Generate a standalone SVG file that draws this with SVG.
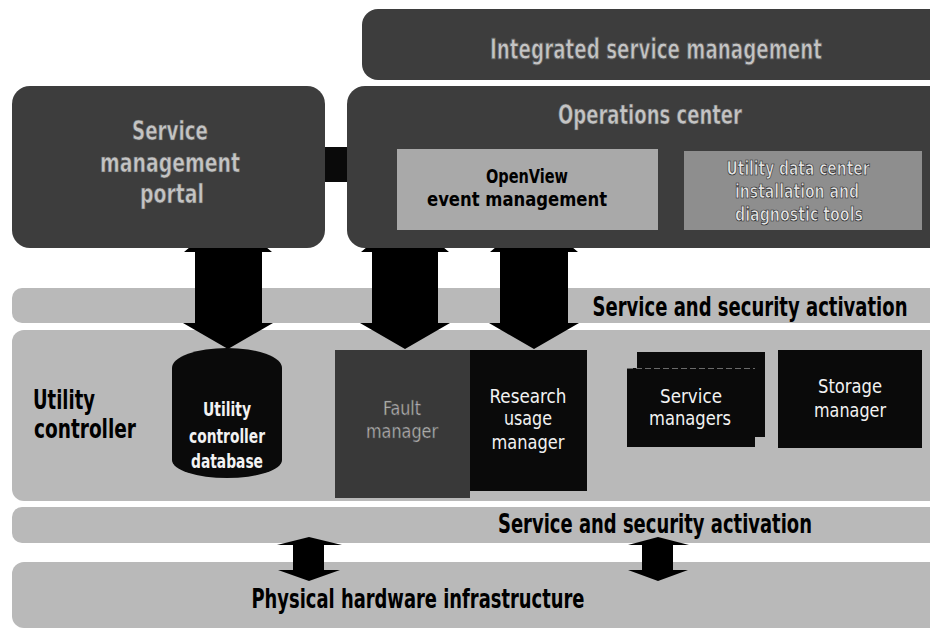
<svg xmlns="http://www.w3.org/2000/svg" width="930" height="631" viewBox="0 0 930 631">
  <style>
    text { font-family: "Liberation Sans Narrow", "DejaVu Sans Condensed", "Liberation Sans", sans-serif; font-stretch: condensed; font-weight: bold; text-anchor: middle; }
    .lft { text-anchor: start; }
    .dark { fill: #3d3d3d; }
    .band { fill: #b9b9b9; }
    .black { fill: #0a0a0a; }
    .ttl { fill: #c4c4c4; stroke: #555; stroke-width: 0.6; }
    .wt { fill: #f2f2f2; font-weight: normal; }
    .bk { fill: #000; }
    .arrow { fill: #000; }
  </style>

  <rect width="930" height="631" fill="#fff"/>

  <!-- horizontal layers -->
  <g id="band-activation-top">
    <rect class="band" x="12" y="288" width="930" height="35" rx="10"/>
    <text class="bk" transform="translate(750,316) scale(1,1.5)" x="0" y="0" font-size="18" textLength="315" lengthAdjust="spacingAndGlyphs">Service and security activation</text>
  </g>
  <g id="band-utility-controller">
    <rect class="band" x="12" y="330" width="930" height="171" rx="12"/>
    <text class="bk lft" x="33" y="409" font-size="27" textLength="62" lengthAdjust="spacingAndGlyphs">Utility</text>
    <text class="bk lft" x="34" y="438" font-size="27" textLength="102" lengthAdjust="spacingAndGlyphs">controller</text>
  </g>
  <g id="band-activation-bottom">
    <rect class="band" x="12" y="507" width="930" height="36" rx="10"/>
    <text class="bk" x="655" y="533" font-size="26" textLength="314" lengthAdjust="spacingAndGlyphs">Service and security activation</text>
  </g>
  <g id="band-hardware">
    <rect class="band" x="12" y="562" width="930" height="66" rx="12"/>
    <text class="bk" x="418" y="608" font-size="26" textLength="333" lengthAdjust="spacingAndGlyphs">Physical hardware infrastructure</text>
  </g>

  <!-- connectors -->
  <g id="connectors">
    <!-- portal <-> utility controller database -->
    <path class="arrow" d="M228,215 L272,252 L262,252 L262,323 L273,323 L228,349 L183,323 L195,323 L195,252 L184,252 Z"/>
    <!-- operations center <-> fault manager -->
    <path class="arrow" d="M405,215 L449,252 L438,252 L438,323 L450,323 L405,349 L360,323 L372,323 L372,252 L361,252 Z"/>
    <!-- operations center <-> research usage manager -->
    <path class="arrow" d="M534,215 L578,252 L568,252 L568,323 L579,323 L534,349 L489,323 L500,323 L500,252 L490,252 Z"/>
    <!-- activation <-> physical hardware -->
    <path class="arrow" d="M309,537 L342,545 L324,545 L324,570 L340,570 L309,581 L278,570 L293,570 L293,545 L277,545 Z"/>
    <path class="arrow" d="M658,537 L689,545 L673,545 L673,570 L688,570 L658,581 L628,570 L642,570 L642,545 L628,545 Z"/>
    <!-- portal <-> operations center link -->
    <rect class="black" x="317" y="147" width="37" height="35"/>
  </g>

  <!-- management tier -->
  <g id="integrated-service-management">
    <rect class="dark" x="362" y="9" width="590" height="71" rx="16"/>
    <text class="ttl" transform="translate(656,59) scale(1,1.5)" x="0" y="0" font-size="19" textLength="332" lengthAdjust="spacingAndGlyphs">Integrated service management</text>
  </g>
  <g id="service-management-portal">
    <rect class="dark" x="12" y="86" width="313" height="162" rx="18"/>
    <text class="ttl" x="170" y="140" font-size="27" textLength="76" lengthAdjust="spacingAndGlyphs">Service</text>
    <text class="ttl" x="170" y="172" font-size="27" textLength="140" lengthAdjust="spacingAndGlyphs">management</text>
    <text class="ttl" x="172" y="203" font-size="27" textLength="64" lengthAdjust="spacingAndGlyphs">portal</text>
  </g>
  <g id="operations-center">
    <rect class="dark" x="347" y="86" width="600" height="162" rx="18"/>
    <text class="ttl" x="650" y="124" font-size="27" textLength="184" lengthAdjust="spacingAndGlyphs">Operations center</text>
  </g>
  <g id="openview-event-management">
    <rect fill="#a9a9a9" x="397" y="149" width="261" height="81"/>
    <text class="bk" x="527" y="183" font-size="20" textLength="82" lengthAdjust="spacingAndGlyphs">OpenView</text>
    <text class="bk" x="517" y="206" font-size="20" textLength="180" lengthAdjust="spacingAndGlyphs">event management</text>
  </g>
  <g id="udc-installation-tools">
    <rect fill="#8e8e8e" x="684" y="151" width="238" height="79"/>
    <text fill="#e4e4e4" stroke="#222" stroke-width="0.7" x="798" y="175" font-size="20" textLength="143" lengthAdjust="spacingAndGlyphs">Utility data center</text>
    <text fill="#e4e4e4" stroke="#222" stroke-width="0.7" x="797" y="198" font-size="20" textLength="124" lengthAdjust="spacingAndGlyphs">installation and</text>
    <text fill="#e4e4e4" stroke="#222" stroke-width="0.7" x="799" y="221" font-size="20" textLength="128" lengthAdjust="spacingAndGlyphs">diagnostic tools</text>
  </g>

  <!-- utility controller components -->
  <g id="utility-controller-database">
    <path class="black" d="M172,368 A55,20 0 0 1 282,368 V460 A55,18 0 0 1 172,460 Z"/>
    <text fill="#f2f2f2" x="227" y="416" font-size="19" textLength="48" lengthAdjust="spacingAndGlyphs">Utility</text>
    <text fill="#f2f2f2" x="227" y="443" font-size="19" textLength="76" lengthAdjust="spacingAndGlyphs">controller</text>
    <text fill="#f2f2f2" x="227" y="468" font-size="19" textLength="72" lengthAdjust="spacingAndGlyphs">database</text>
  </g>
  <g id="fault-manager">
    <rect fill="#393939" x="335" y="350" width="135" height="148"/>
    <text class="ttl" style="font-weight:normal" x="402" y="415" font-size="19" textLength="38" lengthAdjust="spacingAndGlyphs">Fault</text>
    <text class="ttl" style="font-weight:normal" x="402" y="438" font-size="19" textLength="72" lengthAdjust="spacingAndGlyphs">manager</text>
  </g>
  <g id="research-usage-manager">
    <rect class="black" x="470" y="350" width="117" height="141"/>
    <text class="wt" x="528" y="403" font-size="20" textLength="77" lengthAdjust="spacingAndGlyphs">Research</text>
    <text class="wt" x="528" y="425" font-size="20" textLength="48" lengthAdjust="spacingAndGlyphs">usage</text>
    <text class="wt" x="528" y="449" font-size="20" textLength="73" lengthAdjust="spacingAndGlyphs">manager</text>
  </g>
  <g id="service-managers">
    <rect class="black" x="637" y="352" width="128" height="85"/>
    <rect class="black" x="627" y="368" width="128" height="79"/>
    <line x1="627" y1="368.5" x2="755" y2="368.5" stroke="#6a6a6a" stroke-width="1" stroke-dasharray="6 3"/>
    <text class="wt" x="691" y="403" font-size="20" textLength="62" lengthAdjust="spacingAndGlyphs">Service</text>
    <text class="wt" x="690" y="425" font-size="20" textLength="82" lengthAdjust="spacingAndGlyphs">managers</text>
  </g>
  <g id="storage-manager">
    <rect class="black" x="778" y="350" width="144" height="98"/>
    <text class="wt" x="850" y="393" font-size="20" textLength="64" lengthAdjust="spacingAndGlyphs">Storage</text>
    <text class="wt" x="850" y="417" font-size="20" textLength="72" lengthAdjust="spacingAndGlyphs">manager</text>
  </g>
</svg>
